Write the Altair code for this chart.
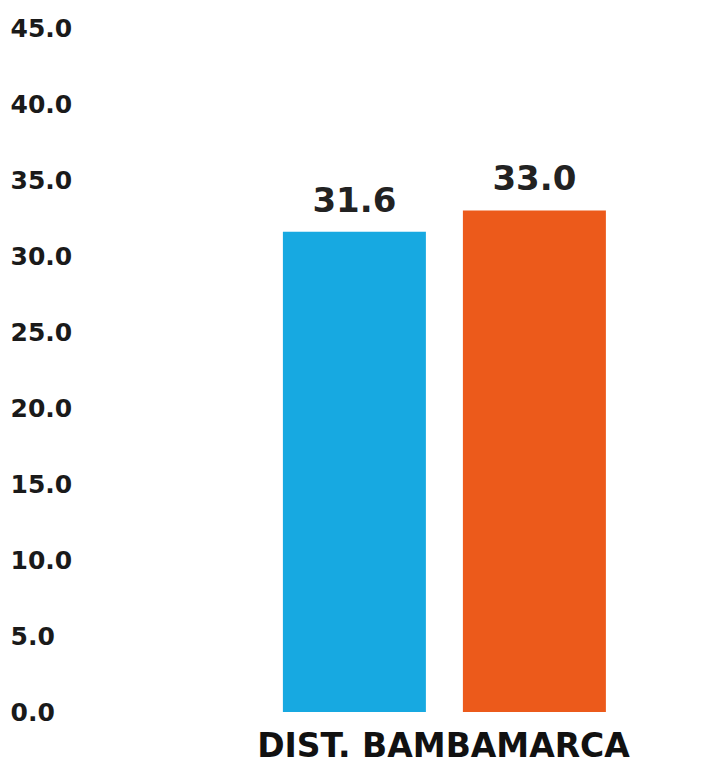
import altair as alt
import pandas as pd

series = ["Serie 1", "Serie 2"]
values = [31.6, 33.0]
colors = ["#17A9E1", "#EC5A1B"]
y_ticks = [0, 5, 10, 15, 20, 25, 30, 35, 40, 45]
category = "DIST. BAMBAMARCA"

df = pd.DataFrame({"serie": series, "valor": values})

x_enc = alt.X(
    "serie:N",
    sort=series,
    scale=alt.Scale(paddingInner=0.2056, paddingOuter=0.7417, align=0.685),
    axis=alt.Axis(
        labels=False, ticks=False, domain=False, title=category,
        titleFont="DejaVu Sans", titleFontSize=33, titleFontWeight="bold",
        titleColor="#111111", titlePadding=18, titleX=343,
    ),
)
y_enc = alt.Y(
    "valor:Q",
    scale=alt.Scale(domain=[0, 45], nice=False),
    axis=alt.Axis(
        values=y_ticks, format=".1f", title=None, grid=False, domain=False,
        ticks=False, labelAlign="left", labelPadding=90,
        labelFont="DejaVu Sans", labelFontSize=25, labelFontWeight="bold",
        labelColor="#1a1a1a",
    ),
)

bars = alt.Chart(df).mark_bar().encode(
    x=x_enc,
    y=y_enc,
    color=alt.Color("serie:N", scale=alt.Scale(domain=series, range=colors), legend=None),
)
labels = alt.Chart(df).mark_text(
    baseline="alphabetic", dy=-20, font="DejaVu Sans", fontSize=34, fontWeight="bold", color="#222222"
).encode(
    x=alt.X("serie:N", sort=series),
    y="valor:Q",
    text=alt.Text("valor:Q", format=".1f"),
)

chart = (bars + labels).properties(
    width=590, height=684,
    padding={"left": 2, "right": 0, "top": 8, "bottom": 0},
).configure_view(stroke=None)

chart.save("out.html", embed_options={"renderer": "svg", "actions": False})
